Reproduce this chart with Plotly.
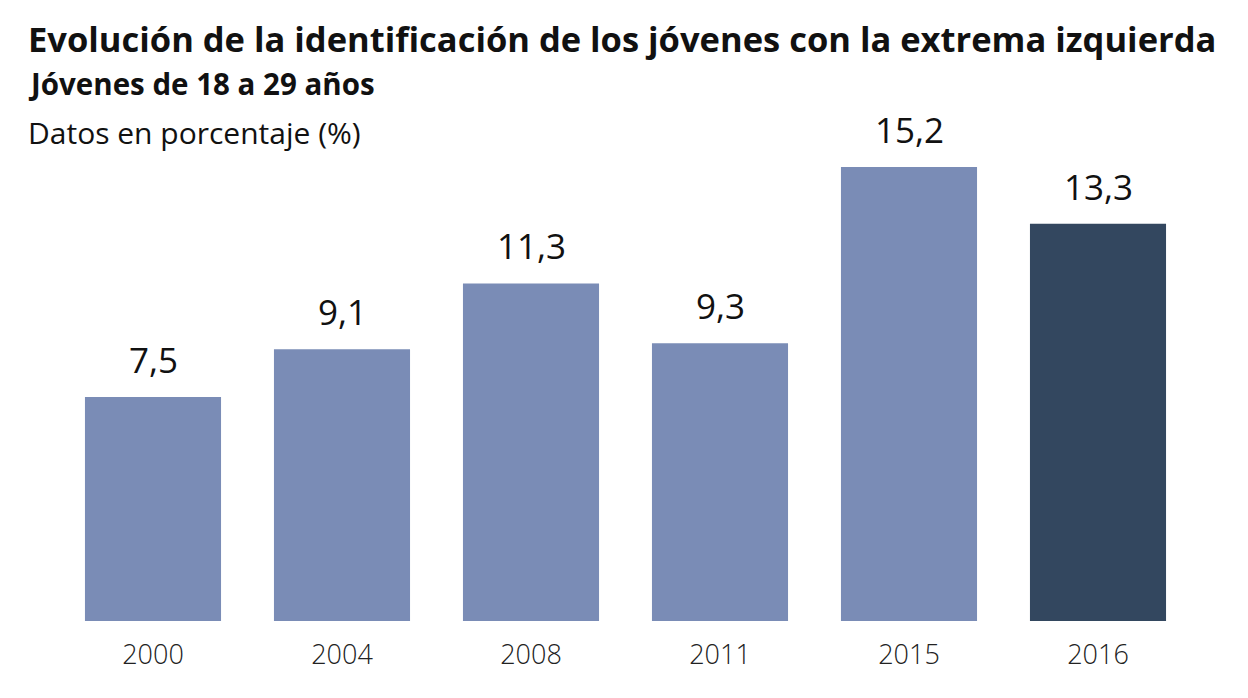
import plotly.graph_objects as go

years = ["2000", "2004", "2008", "2011", "2015", "2016"]
values = [7.5, 9.1, 11.3, 9.3, 15.2, 13.3]
colors = ["#7A8CB6", "#7A8CB6", "#7A8CB6", "#7A8CB6", "#7A8CB6", "#33475F"]
labels = [f"{v:.1f}".replace(".", ",") for v in values]

title = "Evolución de la identificación de los jóvenes con la extrema izquierda"
subtitle = "Jóvenes de 18 a 29 años"
unit = "Datos en porcentaje (%)"

FONT = "Open Sans"
W, H = 1248, 698

fig = go.Figure()
fig.add_trace(go.Bar(
    x=years, y=values, marker=dict(color=colors, line=dict(width=0)),
    width=0.72, hoverinfo="skip",
))

for i, (v, lab) in enumerate(zip(values, labels)):
    fig.add_annotation(x=i, y=v, text=lab, showarrow=False, xref="x", yref="y",
                       yanchor="bottom", yshift=12,
                       font=dict(family=FONT, size=35, color="#111111"))

fig.add_annotation(x=26 / W, y=1 - 38 / H, xref="paper", yref="paper", text=f"<b>{title}</b>",
                   showarrow=False, xanchor="left", yanchor="middle",
                   font=dict(family=FONT, size=34.5, color="#111111"))
fig.add_annotation(x=26 / W, y=1 - 84 / H, xref="paper", yref="paper", text=f"<b>{subtitle}</b>",
                   showarrow=False, xanchor="left", yanchor="middle",
                   font=dict(family=FONT, size=29.5, color="#111111"))
fig.add_annotation(x=26 / W, y=1 - 133 / H, xref="paper", yref="paper", text=unit,
                   showarrow=False, xanchor="left", yanchor="middle",
                   font=dict(family=FONT, size=30, color="#111111"))

fig.update_layout(
    width=W, height=H, margin=dict(l=0, r=0, t=0, b=0),
    paper_bgcolor="white", plot_bgcolor="white", showlegend=False,
    xaxis=dict(type="category", domain=[58.5 / W, 1192.5 / W], range=[-0.5, 5.5], showgrid=False,
               showline=False, zeroline=False, ticks="", ticklabelstandoff=15,
               tickfont=dict(family=FONT, size=27, color="#222222", weight=300)),
    yaxis=dict(domain=[77 / H, (698 - 143.1) / H], range=[0, 16], visible=False),
)

fig.write_html("out.html")
